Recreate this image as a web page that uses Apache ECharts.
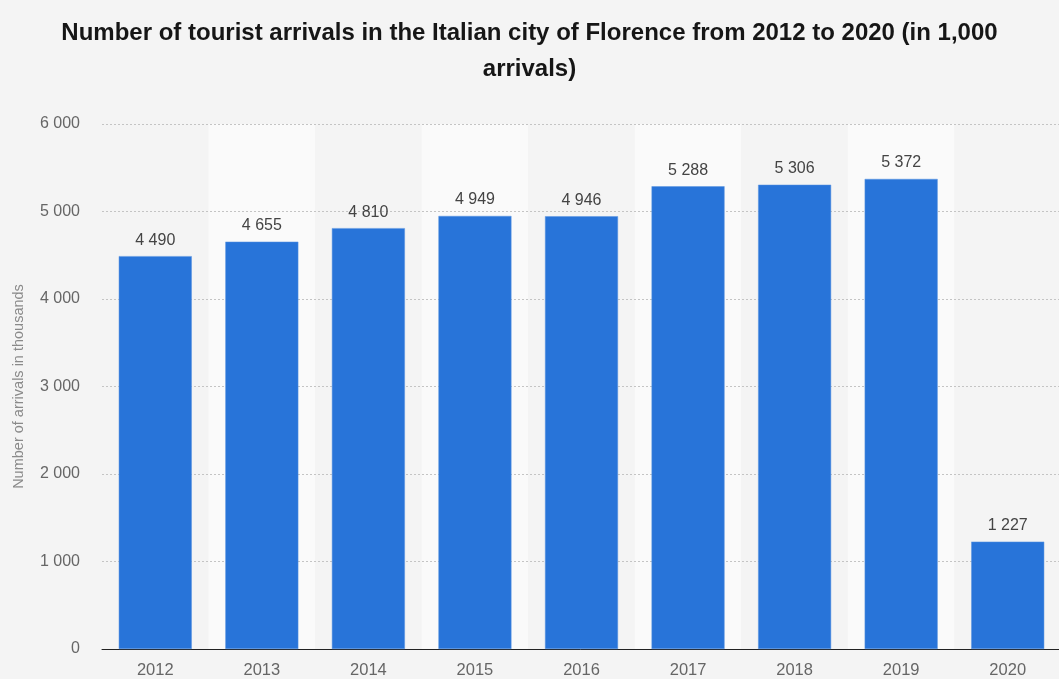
<!DOCTYPE html>
<html>
<head>
<meta charset="utf-8">
<style>
  html, body { margin: 0; padding: 0; background: #f4f4f4; }
  #chart { width: 1059px; height: 679px; }
</style>
<script src="https://cdn.jsdelivr.net/npm/echarts@6/dist/echarts.min.js"></script>
</head>
<body>
<div id="chart"></div>
<script>
// Tourist arrivals in Florence, thousands
const years = ['2012', '2013', '2014', '2015', '2016', '2017', '2018', '2019', '2020'];
const arrivals = [4490, 4655, 4810, 4949, 4946, 5288, 5306, 5372, 1227];
const yTicks = [0, 1000, 2000, 3000, 4000, 5000, 6000];

const fmt = v => String(v).replace(/\B(?=(\d{3})+(?!\d))/g, ' ');
const font = '"Liberation Sans", Arial, Helvetica, sans-serif';

const chart = echarts.init(document.getElementById('chart'), null, { renderer: 'canvas' });
chart.setOption({
  backgroundColor: '#f4f4f4',
  animation: false,
  title: {
    text: 'Number of tourist arrivals in the Italian city of Florence from 2012 to 2020 (in 1,000\narrivals)',
    left: 'center',
    top: 10,
    textStyle: { fontFamily: font, fontSize: 24, fontWeight: 'bold', color: '#161616', lineHeight: 36 }
  },
  grid: { left: 102, right: -2, top: 124, bottom: 30, outerBoundsMode: 'none', containLabel: false },
  xAxis: {
    type: 'category',
    data: years,
    z: 0,
    axisTick: { show: false },
    axisLine: { lineStyle: { color: '#222', width: 1 } },
    axisLabel: { fontFamily: font, fontSize: 16.5, color: '#666', margin: 13 },
    splitArea: { show: true, areaStyle: { color: ['rgba(244,244,244,1)', 'rgba(250,250,250,1)'] } }
  },
  yAxis: {
    type: 'value',
    z: 1,
    min: yTicks[0],
    max: yTicks[yTicks.length - 1],
    interval: 1000,
    name: 'Number of arrivals in thousands',
    nameLocation: 'middle',
    nameGap: 76,
    nameTextStyle: { fontFamily: font, fontSize: 14.5, color: '#8a8a8a' },
    axisLine: { show: false },
    axisTick: { show: false },
    axisLabel: { fontFamily: font, fontSize: 16, color: '#666', margin: 22, formatter: fmt },
    splitLine: { showMinLine: false, lineStyle: { color: '#c4c4c4', type: [2, 2], width: 1 } }
  },
  series: [{
    type: 'bar',
    z: 2,
    data: arrivals,
    barWidth: 73,
    itemStyle: { color: '#2874d9', borderColor: '#5b95e0', borderWidth: 0.5 },
    label: {
      show: true,
      position: 'top',
      distance: 8,
      fontFamily: font,
      fontSize: 16,
      color: '#444',
      formatter: p => fmt(p.value)
    }
  }]
});
</script>
</body>
</html>
